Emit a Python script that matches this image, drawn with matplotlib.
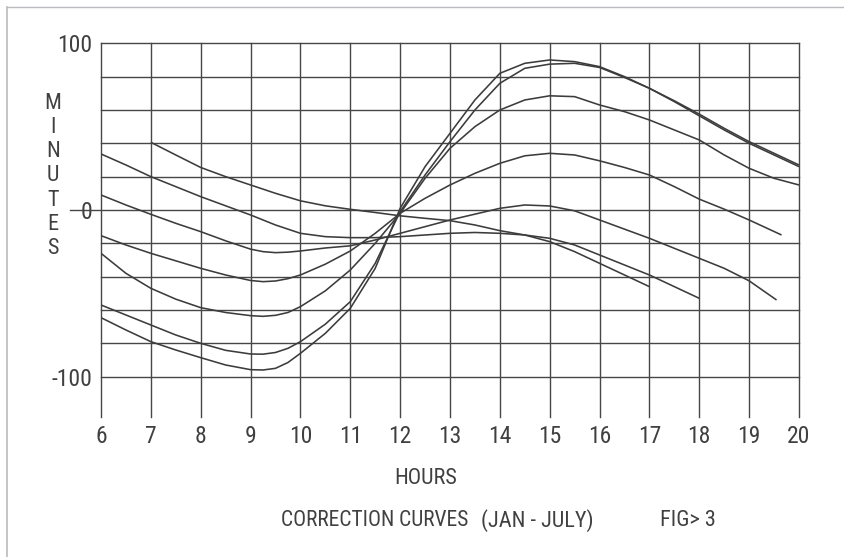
import matplotlib
matplotlib.use("Agg")
import matplotlib.pyplot as plt
from matplotlib import font_manager
from matplotlib.lines import Line2D

# ---------------- data ----------------
hours_ticks = [6, 7, 8, 9, 10, 11, 12, 13, 14, 15, 16, 17, 18, 19, 20]
minute_ticks = [-100, 0, 100]
minute_grid = [-100, -80, -60, -40, -20, 0, 20, 40, 60, 80, 100]

# curve A (starts 7h, ends 17h)
hours_a = [7, 7.5, 8, 8.5, 9, 9.5, 10, 10.5, 11, 11.5, 12, 12.5, 13, 13.5,
           14, 14.5, 15, 15.5, 16, 16.5, 17]
mins_a = [40.6, 33, 25.5, 20, 15, 10, 5.5, 2.5, 0.4, -1.5, -3.5, -5, -6.4, -9,
          -12.4, -15, -19, -25, -32, -39, -46]

# curve B (6h - 18h)
hours_b = [6, 6.5, 7, 7.5, 8, 8.5, 9, 9.5, 10, 10.5, 11, 11.5, 12, 12.5, 13,
           13.5, 14, 14.5, 15, 15.5, 16, 16.5, 17, 17.5, 18]
mins_b = [33.6, 27, 20, 14, 8, 2.5, -3, -9, -14, -16, -16.6, -16.6, -16,
          -15, -14, -13.5, -14, -15, -17, -21, -27, -33, -39, -46, -53]

# curve C (6h - 19.55h)
hours_c = [6, 6.5, 7, 7.5, 8, 8.5, 9, 9.25, 9.5, 9.75, 10, 10.5, 11, 11.5, 12,
           12.5, 13, 13.5, 14, 14.5, 15, 15.5, 16, 16.5, 17, 17.5, 18, 18.5,
           19, 19.55]
mins_c = [9, 3, -2.6, -8, -13, -18.5, -23.5, -25, -25.6, -25.3, -24.6, -22.8,
          -21.5, -18, -14, -10, -6, -2.5, 1, 3, 2.4, -0.5, -6, -11.5, -17, -23,
          -29, -35, -42.5, -54]

# curve D (6h - 19.65h)
hours_d = [6, 6.5, 7, 7.5, 8, 8.5, 9, 9.25, 9.5, 9.75, 10, 10.5, 11, 11.5, 12,
           12.5, 13, 13.5, 14, 14.5, 15, 15.5, 16, 16.5, 17, 17.5, 18, 18.5,
           19, 19.65]
mins_d = [-15.4, -21, -26, -30.5, -35, -39, -42.3, -43, -42.6, -41.2, -39,
          -32.5, -24.6, -14, -2, 7, 15, 22, 28, 32.5, 34, 33, 29.5, 25.5, 21,
          14, 6.5, 0.5, -6, -15]

# curve E (6h - 20h)
hours_e = [6, 6.5, 7, 7.5, 8, 8.5, 9, 9.25, 9.5, 9.75, 10, 10.5, 11, 11.5, 12,
           12.5, 13, 13.5, 14, 14.5, 15, 15.5, 16, 16.5, 17, 17.5, 18, 18.5,
           19, 19.5, 20]
mins_e = [-26, -38, -47, -53.5, -58.6, -61.5, -63.4, -63.8, -63.2, -61.5, -58,
          -48.5, -36, -20, -2, 19, 37, 50, 60, 66, 68.5, 68, 63, 59, 54, 48,
          42, 33, 25, 19, 15]

# curve F (6h - 20h)
hours_f = [6, 6.5, 7, 7.5, 8, 8.5, 9, 9.25, 9.5, 9.75, 10, 10.5, 11, 11.5, 12,
           12.5, 13, 13.5, 14, 14.5, 15, 15.5, 16, 16.5, 17, 17.5, 18, 18.5,
           19, 19.5, 20]
mins_f = [-57, -63, -69, -75, -80, -84.2, -86.4, -86.5, -85.5, -83, -79,
          -68.5, -55, -32, -1, 21, 41, 60, 76, 85, 87.5, 88, 85.5, 79.5, 73,
          65, 56.5, 48, 40, 33, 26]

# curve G (6h - 20h)
hours_g = [6, 6.5, 7, 7.5, 8, 8.5, 9, 9.25, 9.5, 9.75, 10, 10.5, 11, 11.5, 12,
           12.5, 13, 13.5, 14, 14.5, 15, 15.5, 16, 16.5, 17, 17.5, 18, 18.5,
           19, 19.5, 20]
mins_g = [-64.6, -72, -79, -84, -88.6, -93, -95.8, -96, -95, -91.5, -86,
          -74, -59, -35, 1, 26, 46, 66, 82, 88, 90, 89, 86, 80, 73, 65.5, 57.5,
          49, 41, 34, 27]

curves = [(hours_a, mins_a), (hours_b, mins_b), (hours_c, mins_c),
          (hours_d, mins_d), (hours_e, mins_e), (hours_f, mins_f),
          (hours_g, mins_g)]

x_title = "HOURS"
y_title = "MINUTES"
caption = "CORRECTION CURVES"
caption_range = "(JAN - JULY)"
fig_label = "FIG> 3"

# ---------------- font ----------------
def pick_font(cands):
    for c in cands:
        try:
            font_manager.findfont(font_manager.FontProperties(family=c),
                                  fallback_to_default=False)
            return c
        except Exception:
            pass
    return "DejaVu Sans"

FONT = pick_font(["Liberation Sans Narrow", "DejaVu Sans Condensed",
                  "Roboto Condensed", "Open Sans Condensed", "Liberation Sans"])
plt.rcParams["font.family"] = [FONT, "DejaVu Sans"]

INK = "#3c3c3c"
TXT = "#404040"
GRID = "#474747"

W, H = 844, 557
fig = plt.figure(figsize=(W / 100, H / 100), dpi=100)
fig.patch.set_facecolor("white")

x0, x1 = 101, 799
ytop, ybot = 43.3, 417
ax = fig.add_axes([x0 / W, 1 - ybot / H, (x1 - x0) / W, (ybot - ytop) / H])
ymin = -124.2
ax.set_xlim(6, 20)
ax.set_ylim(ymin, 100)
for s in ax.spines.values():
    s.set_visible(False)
ax.set_facecolor("none")

# grid
for y in minute_grid:
    ext = -0.0445 if y == 0 else 0
    ax.axhline(y, xmin=ext, xmax=1, color=GRID, lw=1.0, clip_on=False, zorder=1)
for x in hours_ticks:
    ax.axvline(x, ymin=0, ymax=1, color=GRID, lw=1.0, clip_on=False, zorder=1)

# curves
for hx, my in curves:
    ax.plot(hx, my, color=INK, lw=1.15, solid_joinstyle="round",
            solid_capstyle="butt", zorder=3)

# ticks
ax.set_xticks(hours_ticks)
ax.set_xticklabels([str(h) for h in hours_ticks])
ax.set_yticks(minute_ticks)
ax.set_yticklabels(["100" if v == 100 else ("0" if v == 0 else "-100")
                    for v in minute_ticks])
ax.tick_params(axis="both", length=0, labelsize=17, labelcolor=TXT)
ax.tick_params(axis="x", pad=6)
ax.tick_params(axis="y", pad=6)

# axis titles / captions
fig.text(53 / W, 1 - 176 / H, "\n".join(y_title), ha="center", va="center",
         fontsize=16, color=TXT, linespacing=1.2)
fig.text(426 / W, 1 - 479 / H, x_title, ha="center", va="center",
         fontsize=16, color=TXT)
fig.text(281 / W, 1 - 521 / H, caption, ha="left", va="center",
         fontsize=15.5, color=TXT)
fig.text(481 / W, 1 - 521 / H, caption_range, ha="left", va="center",
         fontsize=16, color=TXT)
fig.text(660 / W, 1 - 521 / H, fig_label, ha="left", va="center",
         fontsize=16, color=TXT)

# page frame lines
fig.add_artist(Line2D([6.5 / W, 6.5 / W], [0, 1 - 7 / H], color="#b8bcc0",
                      lw=1.2, transform=fig.transFigure))
fig.add_artist(Line2D([6.5 / W, 1], [1 - 7 / H, 1 - 7 / H], color="#b8bcc0",
                      lw=1.0, transform=fig.transFigure))

fig.savefig("out.png", dpi=100, facecolor="white")
